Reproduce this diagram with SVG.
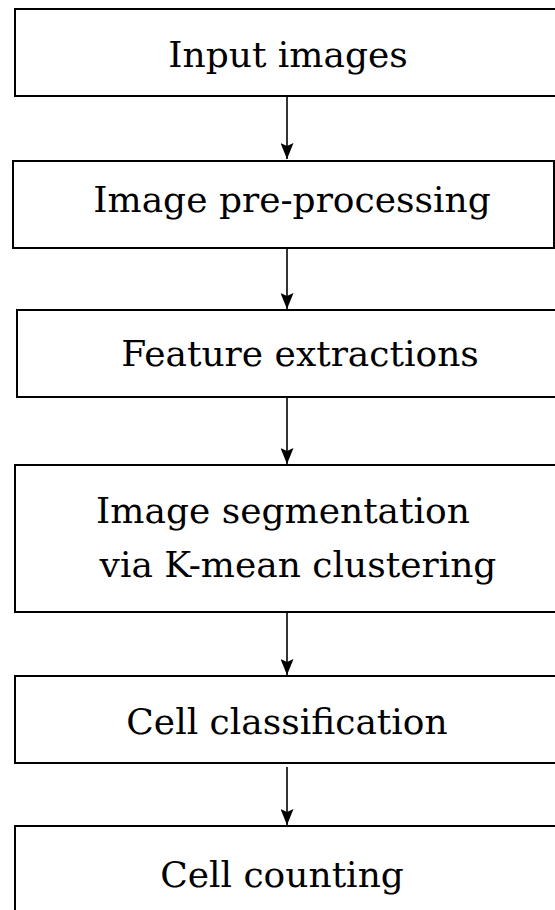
<svg xmlns="http://www.w3.org/2000/svg" width="555" height="910" viewBox="0 0 555 910">
<style>
.box{fill:#fff;stroke:#000;stroke-width:2}
.lbl{font-family:"DejaVu Serif","Liberation Serif",serif;font-size:36px;fill:#000;text-anchor:middle}
.conn{stroke:#000;stroke-width:1.6;fill:none;marker-end:url(#ah)}
</style>
<defs>
<marker id="ah" viewBox="0 0 16 13" refX="16" refY="6.5" markerWidth="16" markerHeight="13" markerUnits="userSpaceOnUse" orient="auto">
<path d="M0,0 L16,6.5 L0,13 L3,6.5 Z" fill="#000"/>
</marker>
</defs>
<rect width="555" height="910" fill="#fff"/>
<g id="connectors">
<line class="conn" x1="287" y1="97" x2="287" y2="159"/>
<line class="conn" x1="287" y1="249" x2="287" y2="309"/>
<line class="conn" x1="287" y1="398" x2="287" y2="464"/>
<line class="conn" x1="287" y1="613" x2="287" y2="675"/>
<line class="conn" x1="287" y1="767" x2="287" y2="825"/>
</g>
<g id="n1"><rect class="box" x="15" y="9" width="550" height="87"/><text class="lbl" x="288" y="67">Input images</text></g>
<g id="n2"><rect class="box" x="13" y="161" width="541" height="87"/><text class="lbl" x="292" y="212">Image pre-processing</text></g>
<g id="n3"><rect class="box" x="17" y="310" width="550" height="87"/><text class="lbl" x="300" y="366">Feature extractions</text></g>
<g id="n4"><rect class="box" x="15" y="465" width="550" height="147"/><text class="lbl" x="283" y="523">Image segmentation</text><text class="lbl" x="298" y="577">via K-mean clustering</text></g>
<g id="n5"><rect class="box" x="15" y="676" width="550" height="87"/><text class="lbl" x="287" y="734">Cell classification</text></g>
<g id="n6"><rect class="box" x="15" y="826" width="550" height="100"/><text class="lbl" x="282" y="887">Cell counting</text></g>
</svg>
